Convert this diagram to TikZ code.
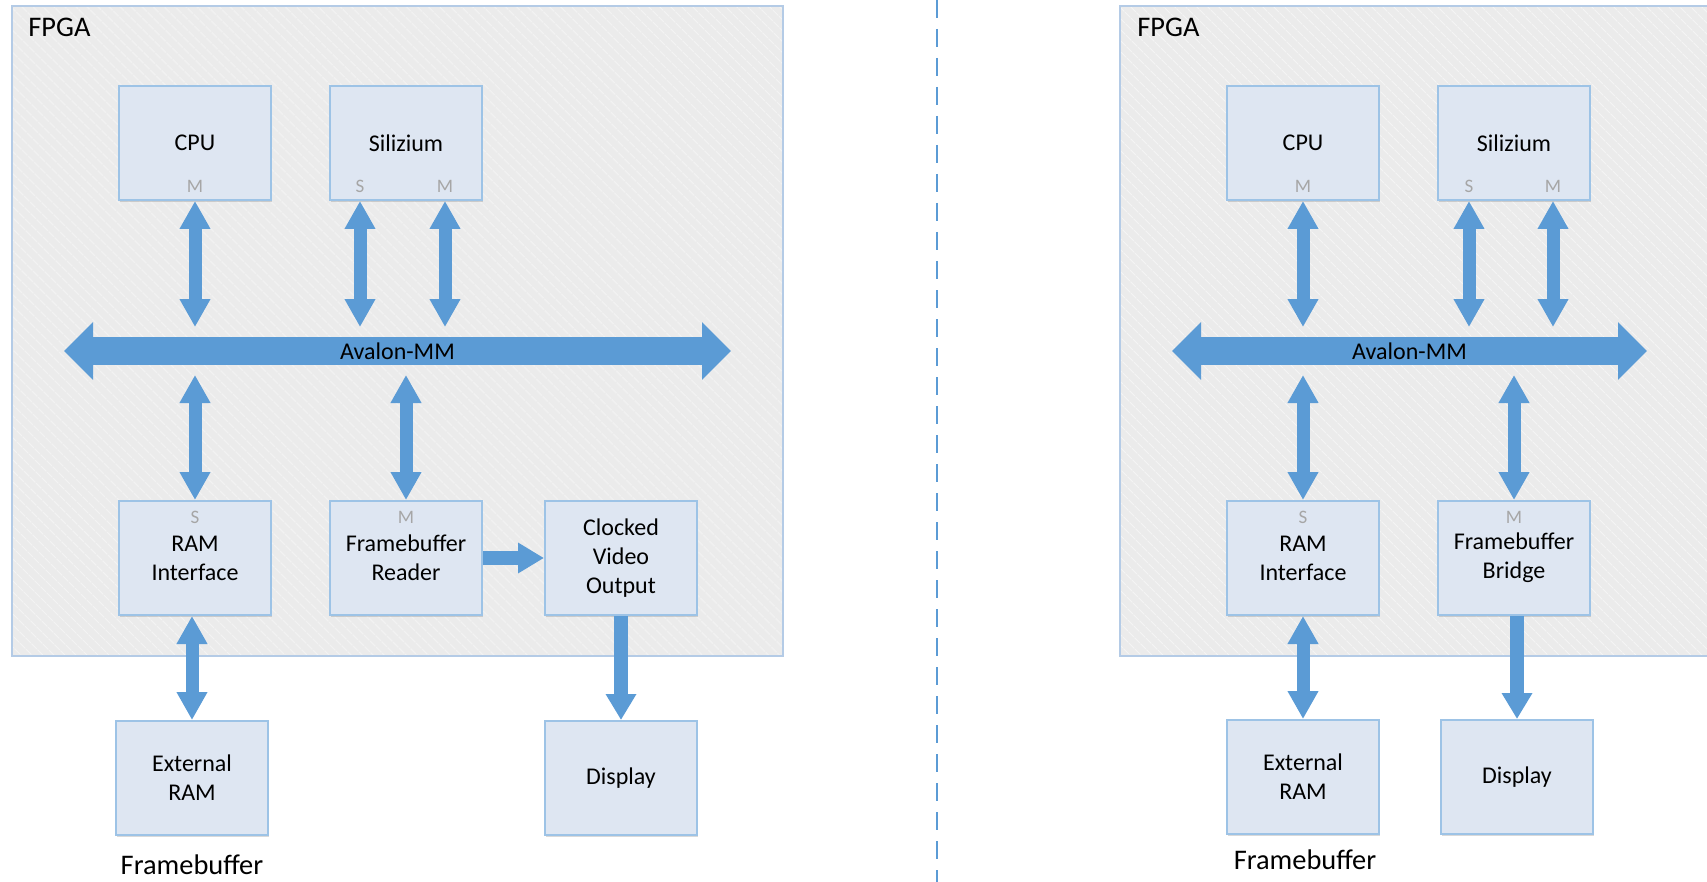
\documentclass[tikz,border=0pt]{standalone}
\usepackage{fontspec}
\setmainfont{Carlito}
\usetikzlibrary{arrows.meta,patterns.meta,shadows}

\definecolor{accent}{HTML}{5B9BD5}
\definecolor{boxfill}{HTML}{DEE6F2}
\definecolor{boxline}{HTML}{9DC3E6}
\definecolor{fpgafill}{HTML}{EBEBEB}
\definecolor{fpgaline}{HTML}{B4CBE6}
\definecolor{portgray}{HTML}{A6A6A6}

\begin{document}
\begin{tikzpicture}[x=0.5pt,y=-0.5pt,
  blk/.style={draw=boxline,fill=boxfill,line width=1pt,minimum width=76pt,
    minimum height=57pt,inner sep=0pt,align=center,
    font=\fontsize{12}{14.6}\selectfont,
    drop shadow={shadow xshift=0.4pt,shadow yshift=-1.2pt,opacity=0.3}},
  port/.style={text=portgray,inner sep=0pt,anchor=base,font=\fontsize{9.5}{11}\selectfont},
  lbl/.style={inner sep=0pt,font=\fontsize{14.2}{17}\selectfont},
  fpga/.style={fill=fpgafill,
    postaction={pattern={Lines[angle=-45,distance=4pt,line width=0.6pt]},pattern color=white!45!fpgafill},
    postaction={draw=fpgaline,line width=1pt}},
  bi/.style={draw=accent,line width=6.5pt,>={Triangle[width=14.5pt,length=14pt]},<->},
  uni/.style={draw=accent,line width=7pt,>={Triangle[width=14.5pt,length=13pt]},->},
  bus/.style={draw=accent,line width=14pt,>={Triangle[width=28pt,length=14.5pt]},<->}]
\useasboundingbox (0,0) rectangle (1707,882);
\clip (0,0) rectangle (1707,882);

% left: Framebuffer Reader + Clocked Video Output
\path[fpga] (12,6) rectangle (783,656);
\node[lbl,anchor=west] (f1) at (28,27) {FPGA};
\node[blk] (c1) at (195,143) {CPU};
\node[blk] (s1) at (406,143) {Silizium};
\node[blk] (r1) at (195,558) {RAM\\Interface};
\node[blk] (fr1) at (406,558) {Framebuffer\\Reader};
\node[blk] (v1) at (621,558) {Clocked\\Video\\Output};
\node[blk] (e1) at (192,778) {External\\RAM};
\node[blk] (d1) at (621,778) {Display};
\node[lbl] (l1) at (192,865) {Framebuffer};
\node[port] (c1m) at (195,193) {M};
\node[port] (s1s) at (360,193) {S};
\node[port] (s1m) at (445,193) {M};
\node[port] (r1s) at (195,523) {S};
\node[port] (fr1m) at (406,523) {M};

\coordinate (t1) at (0,327);
\coordinate (u1) at (0,375);
\coordinate (bl1) at (64,351);
\coordinate (br1) at (731,351);
\draw[bus] (bl1) -- (br1) node[midway,font=\fontsize{12}{14}\selectfont] (a1) {Avalon-MM};
\draw (c1.south) edge[bi] (c1.south |- t1)
(s1s |- s1.south) edge[bi] (s1s |- t1)
(s1m |- s1.south) edge[bi] (s1m |- t1)
(r1.north |- u1) edge[bi] (r1.north)
(fr1m |- u1) edge[bi] (fr1m |- fr1.north)
(fr1) edge[uni] (v1)
(r1.south -| e1.north) edge[bi] (e1.north)
(v1.south) edge[uni] (d1.north);

% right: Framebuffer Bridge
\path[fpga] (1120,6) rectangle (1760,656);
\node[lbl,anchor=west] (f2) at (1137,27) {FPGA};
\node[blk] (c2) at (1303,143) {CPU};
\node[blk] (s2) at (1514,143) {Silizium};
\node[blk] (r2) at (1303,558) {RAM\\Interface};
\node[blk] (b2) at (1514,558) {Framebuffer\\Bridge};
\node[blk] (e2) at (1303,777) {External\\RAM};
\node[blk] (d2) at (1517,777) {Display};
\node[lbl] (l2) at (1305,860) {Framebuffer};
\node[port] (c2m) at (1303,193) {M};
\node[port] (s2s) at (1469,193) {S};
\node[port] (s2m) at (1553,193) {M};
\node[port] (r2s) at (1303,523) {S};
\node[port] (b2m) at (1514,523) {M};

\coordinate (bl2) at (1172,351);
\coordinate (br2) at (1647,351);
\draw[bus] (bl2) -- (br2) node[midway,font=\fontsize{12}{14}\selectfont] (a2) {Avalon-MM};
\draw (c2.south) edge[bi] (c2.south |- t1)
(s2s |- s2.south) edge[bi] (s2s |- t1)
(s2m |- s2.south) edge[bi] (s2m |- t1)
(r2.north |- u1) edge[bi] (r2.north)
(b2m |- u1) edge[bi] (b2m |- b2.north)
(r2.south) edge[bi] (e2.north)
(b2.south -| d2.north) edge[uni] (d2.north);

% divider
\coordinate (dt) at (937,0);
\coordinate (db) at (937,882);
\draw[accent,line width=1.2pt,dash pattern=on 9pt off 5.5pt] (dt) -- (db);
\end{tikzpicture}
\end{document}
